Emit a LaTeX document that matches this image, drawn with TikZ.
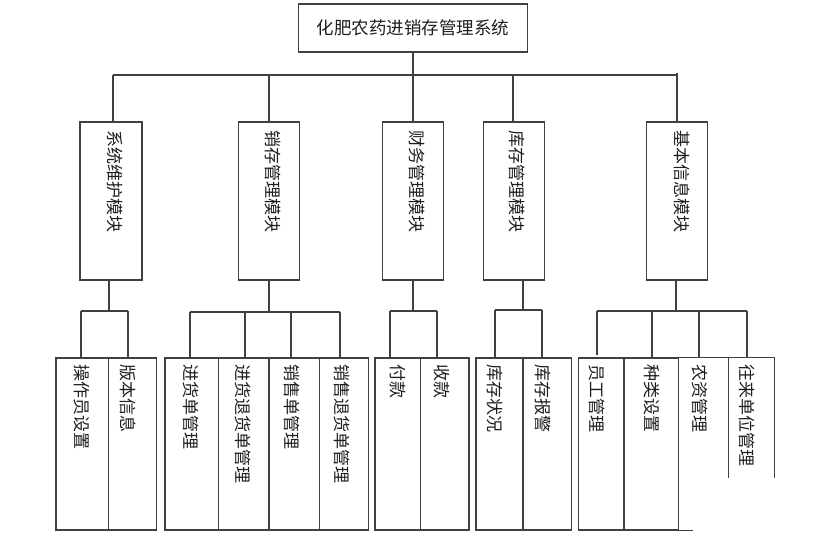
\documentclass[tikz,border=0pt]{standalone}
\usepackage{fontspec}
\newfontfamily\cjk{Noto Sans CJK SC}
\definecolor{linec}{HTML}{404040}
\definecolor{txtc}{HTML}{1E1E1E}
\begin{document}
\begin{tikzpicture}[x=1pt,y=-1pt,
  ln/.style={draw=linec, line width=1.2pt},
  box/.style={draw=linec, line width=1.2pt, rectangle, inner sep=0pt},
  nobox/.style={rectangle, inner sep=0pt},
  vtxt/.style={rotate=-90, anchor=west, inner sep=0pt, font=\cjk\fontsize{17}{17}\selectfont, text=txtc},
]
\useasboundingbox (0,0) rectangle (834,539);
% root
\node[box, minimum width=229pt, minimum height=48pt, font=\cjk\fontsize{17.5}{18}\selectfont, text=txtc] (root) at (413,28) {化肥农药进销存管理系统};
% modules
\node[box, minimum width=62pt, minimum height=158pt] (m1) at (111,201) {};
\node[box, minimum width=61pt, minimum height=158pt] (m2) at (268.8,201) {};
\node[box, minimum width=61pt, minimum height=158pt] (m3) at (413.2,201) {};
\node[box, minimum width=61pt, minimum height=158pt] (m4) at (513.8,201) {};
\node[box, minimum width=61pt, minimum height=158pt] (m5) at (677.2,201) {};
\node[vtxt] (t1) at (115,130) {系统维护模块};
\node[vtxt] (t2) at (273,130) {销存管理模块};
\node[vtxt] (t3) at (417,130) {财务管理模块};
\node[vtxt] (t4) at (517,130) {库存管理模块};
\node[vtxt] (t5) at (682,130) {基本信息模块};
% top bus
\coordinate (busL) at (113,75);
\coordinate (busR) at (677,75);
\draw[ln] (root.south) -- (413,75);
\draw[ln] (busL) -- (busR);
\draw[ln] (busL) -- (113,0 |- m1.north);
\draw[ln] (269,75) -- (269,0 |- m2.north);
\draw[ln] (413,75) -- (413,0 |- m3.north);
\draw[ln] (513,75) -- (513,0 |- m4.north);
\draw[ln] (677,73) -- (677,0 |- m5.north);
% bottom boxes
\node[box, minimum width=52.3pt, minimum height=172pt] (b11) at (82.2,444) {};
\node[box, minimum width=48.4pt, minimum height=172pt] (b12) at (132.5,444) {};
\node[box, minimum width=53.3pt, minimum height=172pt] (b21) at (191.7,444) {};
\node[box, minimum width=50.7pt, minimum height=172pt] (b22) at (243.7,444) {};
\node[box, minimum width=50.3pt, minimum height=172pt] (b23) at (294.2,444) {};
\node[box, minimum width=49pt, minimum height=172pt] (b24) at (343.8,444) {};
\node[box, minimum width=45.7pt, minimum height=172pt] (b31) at (397.9,444) {};
\node[box, minimum width=48.3pt, minimum height=172pt] (b32) at (444.9,444) {};
\node[box, minimum width=47pt, minimum height=172pt] (b41) at (499.5,444) {};
\node[box, minimum width=48.3pt, minimum height=172pt] (b42) at (547.2,444) {};
\node[box, minimum width=45.7pt, minimum height=172pt] (b51) at (601.2,444) {};
\node[box, minimum width=54.3pt, minimum height=172pt] (b52) at (651.2,444) {};
\node[nobox, minimum width=50.7pt, minimum height=172pt] (b53) at (703.7,444) {};
\node[nobox, minimum width=45.3pt, minimum height=120pt] (b54) at (751.7,418) {};
\draw[ln] (b53.north west) -- (b53.north east);
\draw[ln] (b53.south west) -- (693.3,0 |- b53.south);
\draw[ln] (b54.north west) -- (b54.north east);
\draw[ln] (b54.north west) -- (b54.south west);
\draw[ln] (b54.north east) -- (b54.south east);
% bottom texts
\node[vtxt] (c11) at (81.7,364) {操作员设置};
\node[vtxt] (c12) at (128.3,364) {版本信息};
\node[vtxt] (c21) at (190.7,364) {进货单管理};
\node[vtxt] (c22) at (243,364) {进货退货单管理};
\node[vtxt] (c23) at (291.7,364) {销售单管理};
\node[vtxt] (c24) at (341.7,364) {销售退货单管理};
\node[vtxt] (c31) at (397.5,364) {付款};
\node[vtxt] (c32) at (442,364) {收款};
\node[vtxt] (c41) at (495,364) {库存状况};
\node[vtxt] (c42) at (543,364) {库存报警};
\node[vtxt] (c51) at (597,364) {员工管理};
\node[vtxt] (c52) at (651.7,364) {种类设置};
\node[vtxt] (c53) at (700,364) {农资管理};
\node[vtxt] (c54) at (746.7,364) {往来单位管理};
% group 1
\draw[ln] (109,0 |- m1.south) -- (109,311);
\draw[ln] (81,311) -- (128,311);
\draw[ln] (81,311) -- (81,0 |- b11.north);
\draw[ln] (128,311) -- (128,0 |- b12.north);
% group 2
\draw[ln] (269,0 |- m2.south) -- (269,312);
\draw[ln] (190,312) -- (340,312);
\draw[ln] (190,312) -- (190,0 |- b21.north);
\draw[ln] (245,312) -- (245,0 |- b22.north);
\draw[ln] (291,312) -- (291,0 |- b23.north);
\draw[ln] (340,312) -- (340,0 |- b24.north);
% group 3
\draw[ln] (413,0 |- m3.south) -- (413,311);
\draw[ln] (390,311) -- (437,311);
\draw[ln] (390,311) -- (390,0 |- b31.north);
\draw[ln] (437,311) -- (437,0 |- b32.north);
% group 4
\draw[ln] (523,0 |- m4.south) -- (523,310);
\draw[ln] (495,310) -- (542,310);
\draw[ln] (495,310) -- (495,0 |- b41.north);
\draw[ln] (542,310) -- (542,0 |- b42.north);
% group 5
\draw[ln] (676,0 |- m5.south) -- (676,311);
\draw[ln] (597,311) -- (747,311);
\draw[ln] (597,311) -- (597,355);
\draw[ln] (652,311) -- (652,0 |- b52.north);
\draw[ln] (699,311) -- (699,0 |- b53.north);
\draw[ln] (747,311) -- (747,0 |- b54.north);
\end{tikzpicture}
\end{document}
